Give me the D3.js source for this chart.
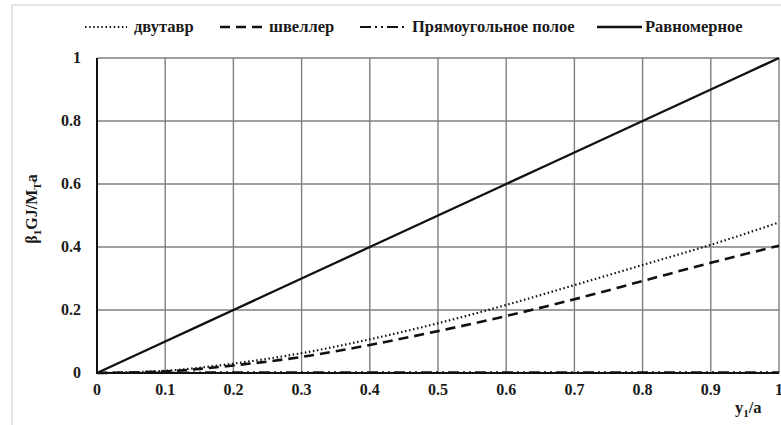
<!DOCTYPE html>
<html>
<head>
<meta charset="utf-8">
<script src="https://cdn.jsdelivr.net/npm/d3@7"></script>
<style>
  body { margin: 0; background: #fff; }
</style>
</head>
<body>
<svg width="781" height="425"></svg>
<script>
// values
var xs = [0, 0.1, 0.2, 0.3, 0.4, 0.5, 0.6, 0.7, 0.8, 0.9, 1];
var dvutavr = [0, 0.007, 0.03, 0.063, 0.107, 0.158, 0.216, 0.279, 0.343, 0.407, 0.478];
var shveller = [0, 0.005, 0.024, 0.051, 0.089, 0.133, 0.181, 0.234, 0.292, 0.35, 0.404];
var poloe = [0, 0.001, 0.002, 0.002, 0.002, 0.002, 0.002, 0.002, 0.002, 0.002, 0.002];
var ravnomernoe = [0, 0.1, 0.2, 0.3, 0.4, 0.5, 0.6, 0.7, 0.8, 0.9, 1];
var xTicks = [0, 0.1, 0.2, 0.3, 0.4, 0.5, 0.6, 0.7, 0.8, 0.9, 1];
var yTicks = [0, 0.2, 0.4, 0.6, 0.8, 1];

var series = [
  { name: "двутавр", values: dvutavr, dash: "1.5,2.6", width: 2.2 },
  { name: "швеллер", values: shveller, dash: "10,6", width: 2.6 },
  { name: "Прямоугольное полое", values: poloe, dash: "11,4,2,4,2,4", width: 2.2 },
  { name: "Равномерное", values: ravnomernoe, dash: null, width: 2.4 }
];

var FONT = "'Liberation Serif', 'Times New Roman', Times, 'DejaVu Serif', serif";

var svg = d3.select("svg")
  .attr("font-family", FONT)
  .attr("font-weight", "bold");

// outer light frame
svg.append("rect")
  .attr("x", 12).attr("y", 5)
  .attr("width", 800).attr("height", 440)
  .attr("fill", "none").attr("stroke", "#dcdcdc").attr("stroke-width", 1.5);

var margin = { left: 97, right: 2, top: 58, bottom: 52 };
var width = 781 - margin.left - margin.right;
var height = 425 - margin.top - margin.bottom;

var x = d3.scaleLinear().domain([0, 1]).range([margin.left, margin.left + width]);
var y = d3.scaleLinear().domain([0, 1]).range([margin.top + height, margin.top]);

// grid
svg.append("g").selectAll("line").data(xTicks.slice(1)).enter().append("line")
  .attr("x1", function(d) { return x(d); }).attr("x2", function(d) { return x(d); })
  .attr("y1", y(0)).attr("y2", y(1))
  .attr("stroke", "#7f7f7f").attr("stroke-width", 1.4);
svg.append("g").selectAll("line").data(yTicks.slice(1)).enter().append("line")
  .attr("x1", x(0)).attr("x2", x(1))
  .attr("y1", function(d) { return y(d); }).attr("y2", function(d) { return y(d); })
  .attr("stroke", "#7f7f7f").attr("stroke-width", 1.4);

// tick labels
svg.append("g").selectAll("text").data(xTicks).enter().append("text")
  .attr("x", function(d) { return x(d); })
  .attr("y", y(0) + 22)
  .attr("text-anchor", "middle")
  .attr("font-size", 16)
  .attr("fill", "#1a1a1a")
  .text(function(d) { return d; });
svg.append("g").selectAll("text").data(yTicks).enter().append("text")
  .attr("x", x(0) - 16)
  .attr("y", function(d) { return y(d) + 5; })
  .attr("text-anchor", "end")
  .attr("font-size", 16)
  .attr("fill", "#1a1a1a")
  .text(function(d) { return d; });

// lines
var line = d3.line()
  .x(function(d, i) { return x(xs[i]); })
  .y(function(d) { return y(d); })
  .curve(d3.curveMonotoneX);

series.forEach(function(s) {
  svg.append("path")
    .datum(s.values)
    .attr("d", line)
    .attr("fill", "none")
    .attr("stroke", "#111")
    .attr("stroke-width", s.width)
    .attr("stroke-dasharray", s.dash);
});

// axes frame (left, bottom)
svg.append("line").attr("x1", x(0)).attr("x2", x(0)).attr("y1", y(0) + 1).attr("y2", y(1))
  .attr("stroke", "#111").attr("stroke-width", 2);
svg.append("line").attr("x1", x(0)).attr("x2", x(1)).attr("y1", y(0)).attr("y2", y(0))
  .attr("stroke", "#111").attr("stroke-width", 2);

// legend
var legendPos = [
  { x1: 85, x2: 127, tx: 134 },
  { x1: 220, x2: 266, tx: 269 },
  { x1: 360, x2: 405, tx: 412 },
  { x1: 597, x2: 642, tx: 645 }
];
series.forEach(function(s, i) {
  var p = legendPos[i];
  svg.append("line")
    .attr("x1", p.x1).attr("x2", p.x2).attr("y1", 27).attr("y2", 27)
    .attr("stroke", "#111").attr("stroke-width", s.width)
    .attr("stroke-dasharray", s.dash);
  svg.append("text")
    .attr("x", p.tx).attr("y", 32)
    .attr("font-size", 16.5)
    .attr("fill", "#1a1a1a")
    .text(s.name);
});

// axis titles
var yl = svg.append("text")
  .attr("transform", "translate(37," + 209 + ") rotate(-90)")
  .attr("text-anchor", "middle")
  .attr("font-size", 16)
  .attr("fill", "#1a1a1a");
yl.append("tspan").text("β");
yl.append("tspan").attr("font-size", 11).attr("dy", 4).text("1");
yl.append("tspan").attr("dy", -4).text("GJ/M");
yl.append("tspan").attr("font-size", 11).attr("dy", 4).text("T");
yl.append("tspan").attr("dy", -4).text("a");

var xl = svg.append("text")
  .attr("x", 735).attr("y", 413)
  .attr("font-size", 16.5)
  .attr("fill", "#1a1a1a");
xl.append("tspan").text("y");
xl.append("tspan").attr("font-size", 11).attr("dy", 4).text("1");
xl.append("tspan").attr("dy", -4).text("/a");
</script>
</body>
</html>
